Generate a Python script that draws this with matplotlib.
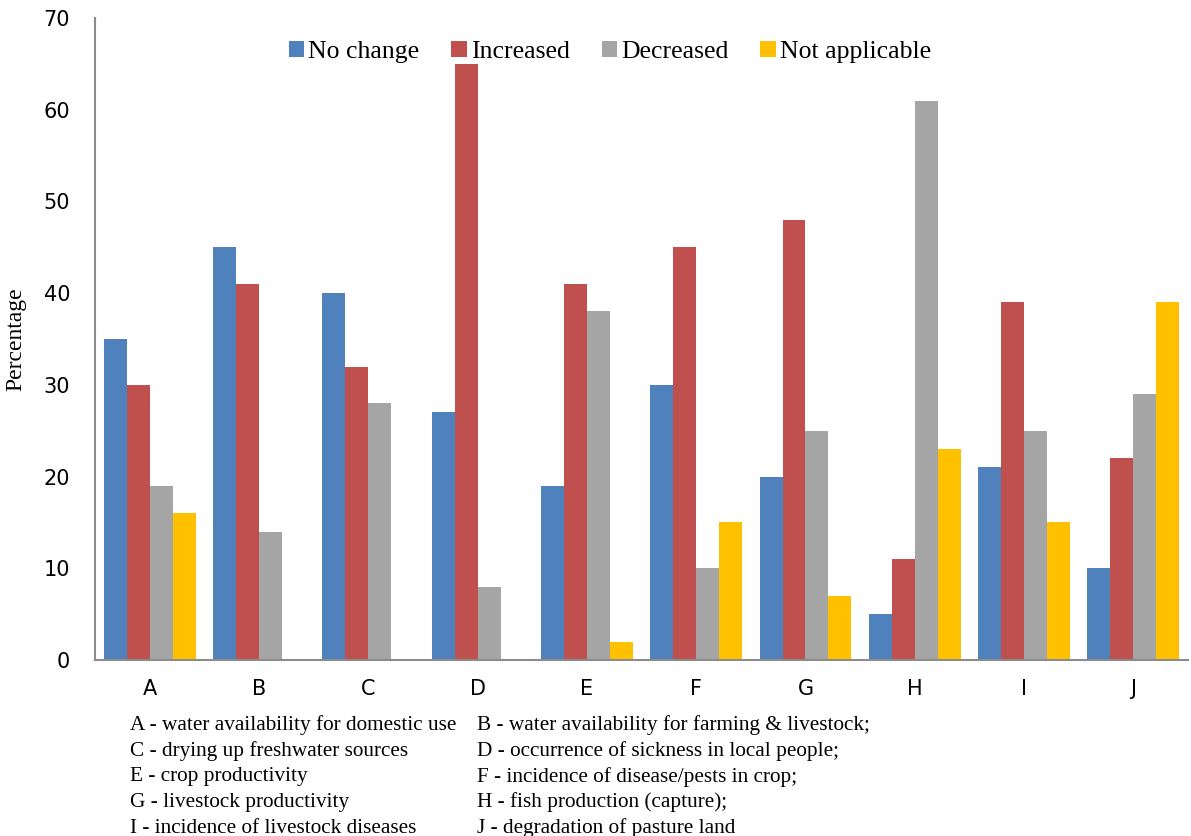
import numpy as np
import matplotlib.pyplot as plt

# -----------------------------
# Data
# -----------------------------
categories = ["A", "B", "C", "D", "E", "F", "G", "H", "I", "J"]
series_names = ["No change", "Increased", "Decreased", "Not applicable"]

no_change = [35, 45, 40, 27, 19, 30, 20, 5, 21, 10]
increased = [30, 41, 32, 65, 41, 45, 48, 11, 39, 22]
decreased = [19, 14, 28, 8, 38, 10, 25, 61, 25, 29]
not_applicable = [16, 0, 0, 0, 2, 15, 7, 23, 15, 39]

colors = ["#4F81BD", "#C0504D", "#A5A5A5", "#FFC000"]

captions_left = [
    "A - water availability for domestic use",
    "C - drying up freshwater sources",
    "E - crop productivity",
    "G - livestock productivity",
    "I - incidence of livestock diseases",
]
captions_right = [
    "B - water availability for farming & livestock;",
    "D - occurrence of sickness in local people;",
    "F - incidence of disease/pests in crop;",
    "H - fish production (capture);",
    "J - degradation of pasture land",
]

SERIF = "Liberation Serif"


def main():
    fig = plt.figure(figsize=(11.91, 8.36), dpi=100)
    ax = fig.add_axes([0.0798, 0.2105, 0.9177, 0.768])

    x = np.arange(len(categories))
    width = 0.21
    values = [no_change, increased, decreased, not_applicable]
    for i, (name, vals) in enumerate(zip(series_names, values)):
        ax.bar(x + (i - 1.5) * width, vals, width, color=colors[i], label=name)

    ax.set_xlim(-0.5, len(categories) - 0.5)
    ax.set_ylim(0, 70)
    ax.set_yticks(range(0, 71, 10))
    ax.set_xticks(x)
    ax.set_xticklabels(categories)

    for side in ("top", "right"):
        ax.spines[side].set_visible(False)
    for side in ("left", "bottom"):
        ax.spines[side].set_color("#8C8C8C")
        ax.spines[side].set_linewidth(1.5)

    ax.tick_params(axis="y", length=0, pad=18, labelsize=15)
    ax.tick_params(axis="x", length=0, pad=14, labelsize=15)

    ax.set_ylabel("Percentage", fontfamily=SERIF, fontsize=17, labelpad=12)

    ax.legend(loc="upper center", bbox_to_anchor=(0.471, 1.0), ncol=4,
              frameon=False, prop={"family": SERIF, "size": 18.5},
              handlelength=0.6, handleheight=0.6, handletextpad=0.15,
              columnspacing=1.25)

    # legend of letter codes under the chart
    y0 = 1 - 725 / 836
    step = 25.8 / 836
    for k, (left, right) in enumerate(zip(captions_left, captions_right)):
        y = y0 - k * step
        fig.text(130 / 1191, y, left, fontfamily=SERIF, fontsize=15.3, va="center")
        fig.text(477 / 1191, y, right, fontfamily=SERIF, fontsize=15.3, va="center")

    fig.savefig("out.png", dpi=100)
    plt.close(fig)


if __name__ == "__main__":
    main()
